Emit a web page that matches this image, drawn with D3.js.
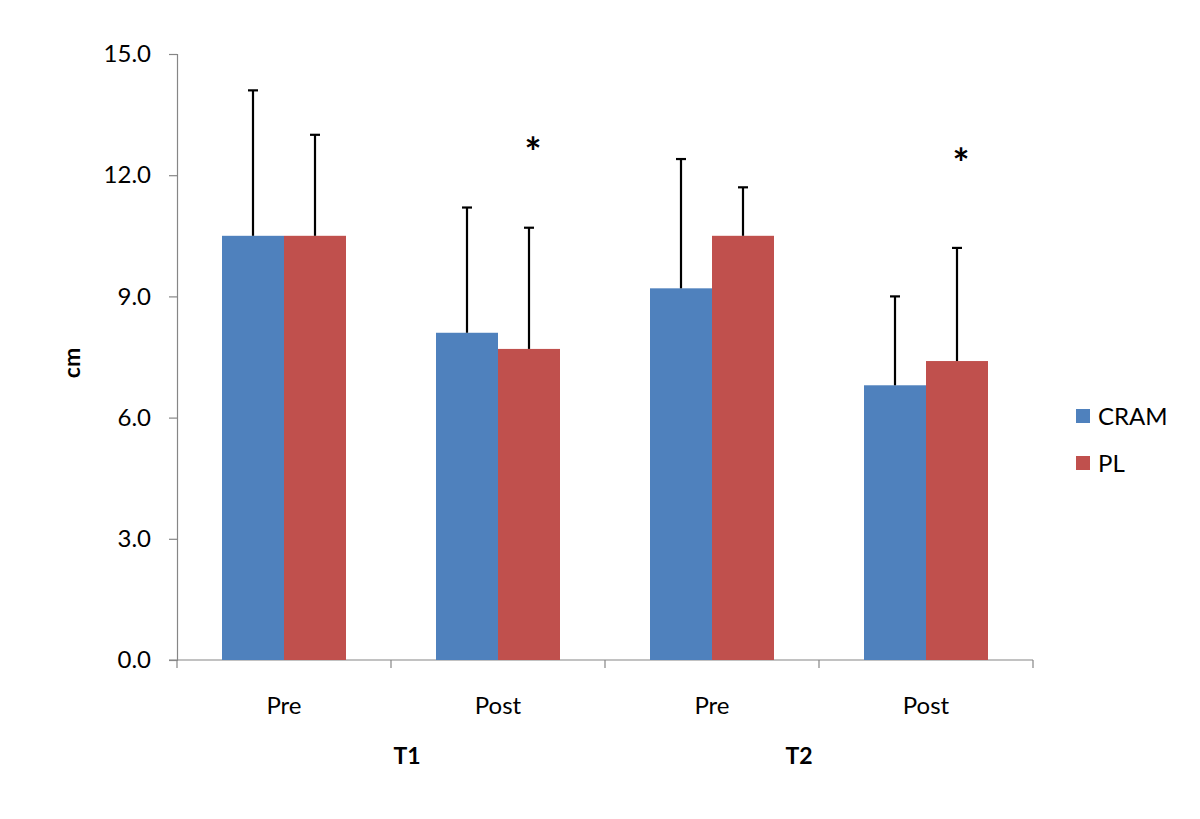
<!DOCTYPE html>
<html><head><meta charset="utf-8">
<script src="https://d3js.org/d3.v7.min.js"></script>
<style>body{margin:0;background:#fff}svg{display:block}text{font-family:Lato,"Open Sans",sans-serif}</style>
</head><body><svg id="c" width="1200" height="819"></svg>
<script>
const categories = ["Pre","Post","Pre","Post"];
const groups = ["T1","T2"];
const seriesNames = ["CRAM","PL"];
const cramValues = [10.5, 8.1, 9.2, 6.8];
const cramErrTop = [14.1, 11.2, 12.4, 9.0];
const plValues = [10.5, 7.7, 10.5, 7.4];
const plErrTop = [13.0, 10.7, 11.7, 10.2];
const yTicks = [0, 3, 6, 9, 12, 15];
const starCategories = [1, 3];
const colors = ["#4F81BD", "#C0504D"];

const svg = d3.select("#c");
const m = {l:177, r:1033, t:54, b:660};
const x = d3.scaleBand().domain(d3.range(categories.length)).range([m.l, m.r]).paddingInner(0).paddingOuter(0);
const y = d3.scaleLinear().domain([0,15]).range([m.b, m.t]);
const bw = 62;

// axes
const yAxis = d3.axisLeft(y).tickValues(yTicks).tickFormat(d3.format(".1f")).tickSize(8).tickPadding(18);
const gy = svg.append("g").attr("transform",`translate(${m.l},0)`).call(yAxis);
gy.selectAll("path,line").attr("stroke","#868686").attr("stroke-width",1.2);
gy.selectAll("text").attr("font-size",24).attr("fill","#000");

const gx = svg.append("g").attr("transform",`translate(0,${m.b})`);
gx.append("line").attr("x1",m.l-8).attr("x2",m.r).attr("stroke","#868686").attr("stroke-width",1.2);
const bounds = d3.range(categories.length+1).map(i => i<categories.length ? x(i) : x(categories.length-1)+x.bandwidth());
gx.selectAll(".tk").data(bounds).enter().append("line")
  .attr("x1",d=>d).attr("x2",d=>d).attr("y1",0).attr("y2",8).attr("stroke","#868686").attr("stroke-width",1.2);
gx.selectAll(".cl").data(categories).enter().append("text")
  .attr("x",(d,i)=>x(i)+x.bandwidth()/2).attr("y",54).attr("text-anchor","middle")
  .attr("font-size",24).text(d=>d);
const groupOffsets = [16,-20];
gx.selectAll(".gl").data(groups).enter().append("text")
  .attr("x",(d,i)=>x(i*2+1)+groupOffsets[i]).attr("y",104).attr("text-anchor","middle")
  .attr("font-size",23).attr("font-weight","bold").text(d=>d);

// bars
const data = [cramValues, plValues];
const errs = [cramErrTop, plErrTop];
data.forEach((vals, s) => {
  const bx = i => x(i) + x.bandwidth()/2 - bw + s*bw;
  svg.append("g").selectAll("rect").data(vals).enter().append("rect")
    .attr("x",(d,i)=>bx(i)).attr("width",bw).attr("y",d=>y(d)).attr("height",d=>y(0)-y(d))
    .attr("fill",colors[s]);
  const ge = svg.append("g");
  errs[s].forEach((e,i)=>{
    const cx = bx(i)+bw/2;
    ge.append("line").attr("x1",cx).attr("x2",cx).attr("y1",y(vals[i])).attr("y2",y(e)).attr("stroke","#000").attr("stroke-width",2.2);
    ge.append("line").attr("x1",cx-5).attr("x2",cx+5).attr("y1",y(e)).attr("y2",y(e)).attr("stroke","#000").attr("stroke-width",2.2);
  });
});

// stars
const starY = [147, 158];
starCategories.forEach((c,k)=>{
  svg.append("text").attr("x",x(c)+x.bandwidth()/2+bw/2+4).attr("y",starY[k]+20)
    .attr("text-anchor","middle").attr("font-size",40).attr("font-weight","bold").text("*");
});

// y label
svg.append("text").attr("transform","translate(80,363) rotate(-90)").attr("text-anchor","middle")
  .attr("font-size",23).attr("font-weight","bold").text("cm");

// legend
const lg = svg.append("g").attr("transform","translate(1076,0)");
seriesNames.forEach((n,i)=>{
  const yy = 416 + i*47;
  lg.append("rect").attr("x",0).attr("y",yy-7).attr("width",14).attr("height",14).attr("fill",colors[i]);
  lg.append("text").attr("x",22).attr("y",yy+9).attr("font-size",24).text(n);
});
</script></body></html>
